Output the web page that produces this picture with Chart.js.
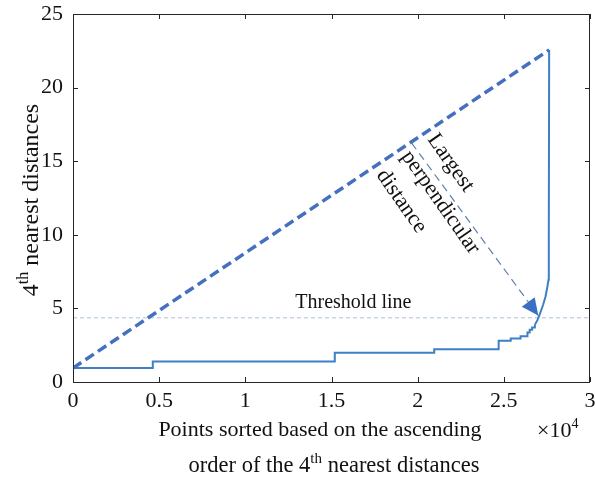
<!DOCTYPE html>
<html><head><meta charset="utf-8">
<script src="https://cdn.jsdelivr.net/npm/chart.js@4.4.0/dist/chart.umd.min.js"></script>
<style>html,body{margin:0;padding:0;background:#fff}#wrap{width:595px;height:480px}</style>
</head><body><div id="wrap"><canvas id="c" width="595" height="480"></canvas></div>
<script>
// Sorted 4th-nearest distance curve (x = point index)
const stairX = [0, 4630, 15190, 20960, 24700, 25400, 25970, 26370, 26500, 26640, 26800];
const stairY = [0.95, 1.39, 1.99, 2.22, 2.80, 2.96, 3.10, 3.37, 3.55, 3.71, 3.89];
const tailX = [26800, 26950, 27060, 27280, 27420, 27530, 27590, 27610, 27630];
const tailY = [3.89, 4.20, 4.52, 5.25, 5.81, 6.49, 6.94, 10.0, 22.56];
// dashed line joining the curve's first and last points
const diagX = [0, 27630];
const diagY = [0.95, 22.56];
// threshold
const thresholdY = 4.36;
const thresholdX = [0, 30000];
// perpendicular distance arrow (start on diagonal, end at knee)
const arrowX = [19640, 27000];
const arrowY = [16.25, 4.51];
// tick labels
const xTicks = [0, 5000, 10000, 15000, 20000, 25000, 30000];
const xTickLabels = ['0', '0.5', '1', '1.5', '2', '2.5', '3'];
const yTicks = [0, 5, 10, 15, 20, 25];
const yTickLabels = ['0', '5', '10', '15', '20', '25'];

const FONT = 'Liberation Serif, Times New Roman, serif';
const zip = (xs, ys) => xs.map((x, i) => ({x, y: ys[i]}));

const overlay = {
  id: 'overlay',
  afterDraw(chart) {
    const {ctx, chartArea: a, scales: {x, y}} = chart;
    ctx.save();
    // box and inward ticks
    ctx.strokeStyle = '#262626';
    ctx.lineWidth = 1;
    ctx.setLineDash([]);
    ctx.strokeRect(Math.round(a.left) + 0.5, Math.round(a.top) + 0.5, Math.round(a.right - a.left) - 1, Math.round(a.bottom - a.top));
    const tl = 5;
    ctx.beginPath();
    xTicks.forEach(v => {
      const px = Math.round(x.getPixelForValue(v)) + 0.5;
      ctx.moveTo(px, a.bottom); ctx.lineTo(px, a.bottom - tl);
      ctx.moveTo(px, a.top); ctx.lineTo(px, a.top + tl);
    });
    yTicks.forEach(v => {
      const py = Math.round(y.getPixelForValue(v)) + 0.5;
      ctx.moveTo(a.left, py); ctx.lineTo(a.left + tl, py);
      ctx.moveTo(a.right, py); ctx.lineTo(a.right - tl, py);
    });
    ctx.stroke();

    // arrowhead
    const x0 = x.getPixelForValue(arrowX[0]), y0 = y.getPixelForValue(arrowY[0]);
    const x1 = x.getPixelForValue(arrowX[1]), y1 = y.getPixelForValue(arrowY[1]);
    const ang = Math.atan2(y1 - y0, x1 - x0);
    const hl = 17, hw = 8;
    ctx.fillStyle = '#3b6fc6';
    ctx.beginPath();
    ctx.moveTo(x1, y1);
    ctx.lineTo(x1 - hl * Math.cos(ang) + hw * Math.sin(ang), y1 - hl * Math.sin(ang) - hw * Math.cos(ang));
    ctx.lineTo(x1 - hl * Math.cos(ang) - hw * Math.sin(ang), y1 - hl * Math.sin(ang) + hw * Math.cos(ang));
    ctx.closePath();
    ctx.fill();

    // texts
    ctx.fillStyle = '#111';
    ctx.textBaseline = 'alphabetic';
    ctx.font = '20px ' + FONT;
    ctx.textAlign = 'left';
    ctx.fillText('Threshold line', x.getPixelForValue(12900), y.getPixelForValue(5.05));

    const rot = 55 * Math.PI / 180;
    ctx.font = '22px ' + FONT;
    [['Largest', 20818, 16.72], ['perpendicular', 19309, 15.57], ['distance', 17858, 14.28]].forEach(([t, vx, vy]) => {
      ctx.save();
      ctx.translate(x.getPixelForValue(vx), y.getPixelForValue(vy));
      ctx.rotate(rot);
      ctx.textBaseline = 'middle';
      ctx.fillText(t, 0, 0);
      ctx.restore();
    });

    // helper for text with superscript
    const drawSegs = (segs, cx, by, align, size) => {
      const sup = Math.round(size * 0.65);
      const ps = segs.map(([t, s]) => {
        ctx.font = (s ? sup : size) + 'px ' + FONT;
        return {t, s, w: ctx.measureText(t).width};
      });
      const w = ps.reduce((s, p) => s + p.w, 0);
      let sx = align === 'center' ? cx - w / 2 : cx;
      ps.forEach(p => {
        ctx.font = (p.s ? sup : size) + 'px ' + FONT;
        ctx.textAlign = 'left';
        ctx.fillText(p.t, sx, by - (p.s ? size * 0.4 : 0));
        sx += p.w;
      });
    };
    ctx.textBaseline = 'alphabetic';
    drawSegs([['Points sorted based on the ascending', false]], 320, 436, 'center', 22);
    drawSegs([['order of the 4', false], ['th', true], [' nearest distances', false]], 334, 472, 'center', 22.5);
    drawSegs([['\u00d710', false], ['4', true]], 537, 437, 'left', 22);

    ctx.save();
    ctx.translate(38, 200);
    ctx.rotate(-Math.PI / 2);
    drawSegs([['4', false], ['th', true], [' nearest distances', false]], 0, 0, 'center', 24);
    ctx.restore();

    ctx.restore();
  }
};

new Chart(document.getElementById('c'), {
  type: 'scatter',
  data: {
    datasets: [
      {data: zip(arrowX, arrowY), showLine: true, borderColor: '#5f7fae', borderWidth: 1.2, borderDash: [8, 5], pointRadius: 0},
      {data: zip(diagX, diagY), showLine: true, borderColor: '#4470bf', borderWidth: 3.5, borderDash: [10, 5], pointRadius: 0},
      {data: zip(stairX, stairY), showLine: true, stepped: 'before', borderColor: '#3d80c3', borderWidth: 2, pointRadius: 0},
      {data: zip(tailX, tailY), showLine: true, borderColor: '#3d80c3', borderWidth: 2, pointRadius: 0},
      {data: zip(thresholdX, [thresholdY, thresholdY]), showLine: true, borderColor: '#a9bedb', borderWidth: 1, borderDash: [4, 3], pointRadius: 0}
    ]
  },
  options: {
    responsive: false,
    animation: false,
    layout: {padding: {top: 14, right: 5, left: 0, bottom: 0}},
    plugins: {legend: {display: false}, tooltip: {enabled: false}},
    scales: {
      x: {
        type: 'linear', min: 0, max: 30000,
        afterBuildTicks: s => { s.ticks = xTicks.map(v => ({value: v})); },
        ticks: {callback: (v) => xTickLabels[xTicks.indexOf(v)], font: {family: FONT, size: 22}, color: '#111', padding: 6, maxRotation: 0, autoSkip: false},
        grid: {display: false, drawTicks: false}, border: {display: false},
        afterFit: s => { s.height = 98; s.paddingLeft = 0; s.paddingRight = 0; }
      },
      y: {
        type: 'linear', min: 0, max: 25,
        afterBuildTicks: s => { s.ticks = yTicks.map(v => ({value: v})); },
        ticks: {callback: (v) => yTickLabels[yTicks.indexOf(v)], font: {family: FONT, size: 22}, color: '#111', padding: 10, autoSkip: false},
        grid: {display: false, drawTicks: false}, border: {display: false},
        afterFit: s => { s.width = 73; s.paddingTop = 0; s.paddingBottom = 0; }
      }
    }
  },
  plugins: [overlay]
});
</script>
</body></html>
